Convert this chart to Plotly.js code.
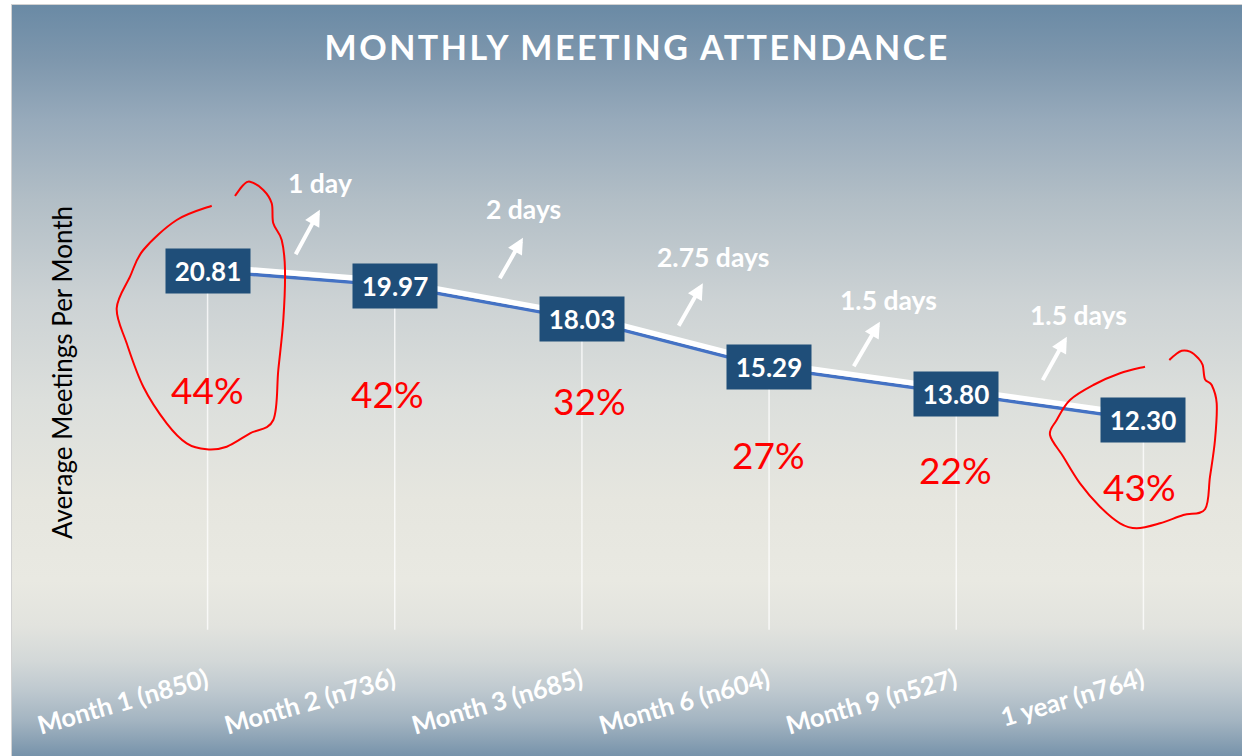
<!DOCTYPE html>
<html>
<head>
<meta charset="utf-8">
<script src="https://cdn.plot.ly/plotly-3.0.1.min.js"></script>
<style>
  html, body { margin: 0; padding: 0; background: #ffffff; }
  #wrap { position: relative; width: 1242px; height: 756px; overflow: hidden; background: #ffffff; }
  #bg {
    position: absolute; left: 11px; top: 4px; width: 1231px; height: 752px;
    border-left: 1px solid #d2d2d2; border-top: 1px solid #d2d2d2;
    box-sizing: border-box;
    background: linear-gradient(to bottom,
      #6a8aa5 0px, #7e97ad 55px, #97aabb 115px, #b2bec6 195px, #ccd2d4 295px,
      #dcdfdc 395px, #e6e6df 495px, #e9e9e2 575px, #e2e3de 621px, #d3d8d8 656px,
      #c0cad0 683px, #a3b4c1 716px, #8aa1b4 736px, #7592aa 752px);
  }
  #chart { position: absolute; left: 0; top: 0; width: 1242px; height: 756px; }
  .gtitle { letter-spacing: 2.5px; }
</style>
</head>
<body>
<div id="wrap">
  <div id="bg"></div>
  <div id="chart"></div>
</div>
<script>
// ---- data ----
const categories = ['Month 1 (n850)', 'Month 2 (n736)', 'Month 3 (n685)', 'Month 6 (n604)', 'Month 9 (n527)', '1 year (n764)'];
const meetings = [20.81, 19.97, 18.03, 15.29, 13.80, 12.30];
const pctLabels = ['44%', '42%', '32%', '27%', '22%', '43%'];
const gapLabels = ['1 day', '2 days', '2.75 days', '1.5 days', '1.5 days'];

// ---- decoration placement (pixel offsets / axis positions) ----
const pctShift = [[0, -119], [-7, -108], [8, -81], [-1, -87], [-1, -76], [-4, -67]];
const arrowHead = [[0.600, 24.3], [1.685, 22.7], [2.646, 20.1], [3.592, 17.9], [4.591, 17.05]];
const arrowTail = [[-25, 46], [-24, 42], [-25, 44], [-27, 46], [-25, 45]];
const gapText = [[0.600, 25.84], [1.690, 24.35], [2.699, 21.61], [3.640, 19.16], [4.655, 18.30]];

const L = 114, R = 5, T = 110, B = 121, W = 1242, H = 756;
const PW = W - L - R, PH = H - T - B;
function toPaper(p) { return [(p[0] - L) / PW, (H - B - p[1]) / PH]; }
function smoothPath(pix) {
  const pts = pix.map(toPaper);
  let d = 'M' + pts[0][0] + ',' + pts[0][1];
  for (let i = 0; i < pts.length - 1; i++) {
    const p0 = pts[i - 1] || pts[i], p1 = pts[i], p2 = pts[i + 1], p3 = pts[i + 2] || p2;
    const c1 = [p1[0] + (p2[0] - p0[0]) / 6, p1[1] + (p2[1] - p0[1]) / 6];
    const c2 = [p2[0] - (p3[0] - p1[0]) / 6, p2[1] - (p3[1] - p1[1]) / 6];
    d += ' C' + c1[0] + ',' + c1[1] + ' ' + c2[0] + ',' + c2[1] + ' ' + p2[0] + ',' + p2[1];
  }
  return d;
}
const circle1 = [[211.7,205.7],[176.7,220],[143.3,250],[130,276.7],[116.7,308.3],[126.7,343.3],[143.3,386.7],[166.7,423.3],[186.7,443.3],[206.7,449.3],[226.7,446.7],[250,433.3],[273.3,420],[278.3,370],[283.3,320],[285,270],[281.7,240],[273.3,223.3],[271.7,203.3],[263.3,190],[250,181.7],[243.3,185],[235,196]];
const circle2 = [[1145,366.7],[1120,373.3],[1093.3,385],[1070,400],[1056.7,420],[1050,435],[1063.3,456.7],[1080,483.3],[1100,506.7],[1120,523.3],[1136.7,528.3],[1160,523.3],[1183.3,515],[1205,509.3],[1210,476.7],[1215,440],[1216.7,403.3],[1211.7,385],[1205,379.3],[1202.7,365],[1198.3,358.3],[1190,351.7],[1181.7,350.7],[1175,355],[1169.3,360]];

const FONT = 'Lato, "Open Sans", sans-serif';
const xIdx = categories.map((c, i) => i);

const traces = [
  { x: xIdx, y: meetings, yaxis: 'y2', type: 'scatter', mode: 'lines',
    line: { color: '#ffffff', width: 5.5 }, hoverinfo: 'skip', showlegend: false },
  { x: xIdx, y: meetings, type: 'scatter', mode: 'lines',
    line: { color: '#4472c4', width: 3.5 }, hoverinfo: 'skip', showlegend: false }
];

const shapes = meetings.map((v, i) => ({
  type: 'line', xref: 'x', yref: 'y', x0: i, x1: i, y0: 0.3, y1: v,
  line: { color: 'rgba(255,255,255,0.75)', width: 1.5 }, layer: 'below'
}));
shapes.push({ type: 'path', xref: 'paper', yref: 'paper', path: smoothPath(circle1), line: { color: '#ff0000', width: 2 } });
shapes.push({ type: 'path', xref: 'paper', yref: 'paper', path: smoothPath(circle2), line: { color: '#ff0000', width: 2 } });

const annotations = [];
meetings.forEach((v, i) => {
  annotations.push({
    x: i, y: v, xref: 'x', yref: 'y', text: v.toFixed(2), showarrow: false,
    bgcolor: '#1f4e79', width: 84, height: 44, borderpad: 0,
    font: { family: FONT, size: 26, color: '#ffffff', weight: 'bold' }
  });
  annotations.push({
    x: i, y: v, xref: 'x', yref: 'y', text: pctLabels[i], showarrow: false,
    xshift: pctShift[i][0], yshift: pctShift[i][1],
    font: { family: FONT, size: 37, color: '#ff0000' }
  });
});
gapLabels.forEach((g, i) => {
  annotations.push({
    x: arrowHead[i][0], y: arrowHead[i][1], xref: 'x', yref: 'y', text: '',
    showarrow: true, ax: arrowTail[i][0], ay: arrowTail[i][1], axref: 'pixel', ayref: 'pixel',
    arrowhead: 2, arrowsize: 0.8, arrowwidth: 4, arrowcolor: '#ffffff', standoff: 0, startstandoff: 0
  });
  annotations.push({
    x: gapText[i][0], y: gapText[i][1], xref: 'x', yref: 'y', text: g, showarrow: false,
    font: { family: FONT, size: 26.5, color: '#ffffff', weight: 'bold' }
  });
});

const layout = {
  width: W, height: H,
  margin: { l: L, r: R, t: T, b: B },
  paper_bgcolor: 'rgba(0,0,0,0)', plot_bgcolor: 'rgba(0,0,0,0)',
  showlegend: false, hovermode: false,
  title: {
    text: 'MONTHLY MEETING ATTENDANCE', xref: 'container', yref: 'container',
    x: 0.513, xanchor: 'center', y: 0.937, yanchor: 'middle',
    font: { family: FONT, size: 34, color: '#ffffff', weight: 'bold' }
  },
  xaxis: {
    range: [-0.5, 5.5], tickmode: 'array', tickvals: xIdx, ticktext: categories,
    tickangle: -16, ticks: 'outside', ticklen: 20, tickcolor: 'rgba(0,0,0,0)',
    ticklabelshift: -1,
    showgrid: false, zeroline: false, showline: false, fixedrange: true,
    tickfont: { family: FONT, size: 25.5, color: '#ffffff', weight: 'bold' }
  },
  yaxis: {
    range: [0, 30], showgrid: false, zeroline: false, showline: false,
    showticklabels: false, ticks: '', fixedrange: true,
    title: { text: 'Average Meetings Per Month', standoff: 32,
      font: { family: FONT, size: 26, color: '#000000' } }
  },
  yaxis2: {
    range: [-0.25, 29.75], overlaying: 'y', visible: false, fixedrange: true
  },
  shapes: shapes,
  annotations: annotations
};

Plotly.newPlot('chart', traces, layout, { staticPlot: true, displayModeBar: false });
</script>
</body>
</html>
